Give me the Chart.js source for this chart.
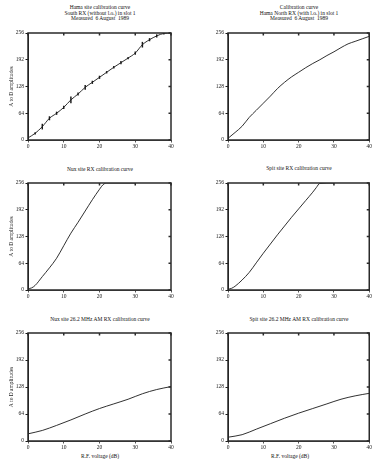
<!DOCTYPE html>
<html lang="en">
<head>
  <meta charset="UTF-8">
  <title>RX calibration curves</title>
  <script src="https://cdn.jsdelivr.net/npm/chart.js"></script>
  <style>
    body {
      margin: 0;
      background: #fff;
      width: 373px;
      height: 459px;
      position: relative;
      overflow: hidden;
      font-family: 'Liberation Serif', 'DejaVu Serif', serif;
    }
    .panel { position: absolute; }
    .title {
      position: absolute;
      text-align: center;
      font-size: 5.5px;
      line-height: 5.6px;
      color: #111;
      white-space: nowrap;
    }
  </style>
</head>
<body>
  <div class="title" style="left:40px;top:5px;width:120px">Hama site calibration curve<br>South RX (without l.o.) in slot 1<br>Measured&nbsp;&nbsp;6 August&nbsp;&nbsp;1989</div>
  <div class="title" style="left:239px;top:5px;width:120px">Calibration curve<br>Hama North RX (with l.o.) in slot 1<br>Measured&nbsp;&nbsp;6 August&nbsp;&nbsp;1989</div>
  <div class="title" style="left:40px;top:167px;width:120px">Nux site RX calibration curve</div>
  <div class="title" style="left:239px;top:166px;width:120px">Spit site RX calibration curve</div>
  <div class="title" style="left:40px;top:317px;width:120px">Nux site 26.2 MHz AM RX calibration curve</div>
  <div class="title" style="left:239px;top:317px;width:120px">Spit site 26.2 MHz AM RX calibration curve</div>
  <div class="title" style="left:40px;top:454px;width:120px">R.F. voltage (dB)</div>
  <div class="title" style="left:230px;top:454px;width:120px">R.F. voltage (dB)</div>

  <div class="panel" style="left:4px;top:28px"><canvas id="c1" width="176" height="126"></canvas></div>
  <div class="panel" style="left:190px;top:28px"><canvas id="c2" width="183" height="126"></canvas></div>
  <div class="panel" style="left:4px;top:178px"><canvas id="c3" width="176" height="126"></canvas></div>
  <div class="panel" style="left:190px;top:178px"><canvas id="c4" width="183" height="126"></canvas></div>
  <div class="panel" style="left:4px;top:328px"><canvas id="c5" width="176" height="127"></canvas></div>
  <div class="panel" style="left:190px;top:328px"><canvas id="c6" width="183" height="127"></canvas></div>

  <script>
    // axis ticks
    const xTicks = [0, 10, 20, 30, 40];
    const yTicks = [0, 64, 128, 192, 256];

    // Hama South RX (with error bars)
    const hamaSouthX   = [0, 2, 4, 6, 8, 10, 12, 14, 16, 18, 20, 22, 24, 26, 28, 30, 32, 34, 36, 38, 40];
    const hamaSouthY   = [5, 16, 32, 52, 64, 78, 96, 110, 126, 138, 150, 162, 174, 185, 196, 208, 228, 240, 249, 255, 256];
    const hamaSouthErr = [2, 2, 6, 4, 3, 3, 7, 3, 5, 3, 3, 2, 2, 3, 2, 3, 6, 3, 3, 2, 1];

    // Hama North RX
    const hamaNorthX = [0, 2, 4, 6, 8, 10, 12, 14, 16, 18, 20, 22, 24, 26, 28, 30, 32, 34, 36, 38, 40];
    const hamaNorthY = [4, 18, 33, 54, 71, 88, 105, 123, 138, 151, 162, 173, 183, 192, 202, 211, 221, 230, 236, 242, 248];

    // Nux site RX
    const nuxX = [0, 1, 2, 4, 6, 8, 10, 12, 14, 16, 18, 20, 21, 22, 30];
    const nuxY = [3, 5, 11, 32, 53, 76, 106, 136, 162, 189, 216, 241, 252, 256, 256];

    // Spit site RX
    const spitX = [0, 1, 2, 4, 6, 8, 10, 12, 14, 16, 18, 20, 22, 24, 25, 26, 30];
    const spitY = [2, 4, 9, 24, 42, 65, 88, 110, 132, 153, 174, 194, 214, 234, 245, 255, 256];

    // 26.2 MHz AM RX
    const nuxAmX  = [0, 4, 8, 12, 16, 20, 24, 28, 32, 36, 40];
    const nuxAmY  = [17, 25, 37, 50, 64, 77, 88, 99, 112, 122, 129];
    const spitAmX = [0, 4, 8, 12, 16, 20, 24, 28, 32, 36, 40];
    const spitAmY = [9, 15, 28, 41, 54, 66, 77, 88, 99, 107, 113];

    const ink = '#1a1a1a';
    const frame = '#555';
    const tickFont = { family: "'Liberation Serif', serif", size: 5.5 };

    function setTicks(list) {
      return scale => { scale.ticks = list.map(v => ({ value: v })); };
    }

    // box around the plot, with small inward ticks on the top and right edges
    const framePlugin = {
      id: 'frame',
      afterDraw(chart) {
        const ctx = chart.ctx;
        const a = chart.chartArea;
        const sx = chart.scales.x, sy = chart.scales.y;
        ctx.save();
        ctx.strokeStyle = '#2a2a2a';
        ctx.lineWidth = 1.5;
        ctx.strokeRect(a.left, a.top, a.right - a.left, a.bottom - a.top);
        ctx.beginPath();
        xTicks.forEach(v => {
          const px = sx.getPixelForValue(v);
          ctx.moveTo(px, a.top);
          ctx.lineTo(px, a.top + 2.5);
        });
        yTicks.forEach(v => {
          const py = sy.getPixelForValue(v);
          ctx.moveTo(a.right, py);
          ctx.lineTo(a.right - 2.5, py);
        });
        ctx.stroke();
        ctx.restore();
      }
    };

    function makePanel(id, xs, ys, errs, leftW, rightPad, yTitle) {
      const datasets = [{
        data: xs.map((x, i) => ({ x: x, y: ys[i] })),
        borderColor: ink,
        borderWidth: 0.9,
        pointRadius: 0,
        cubicInterpolationMode: 'monotone',
        fill: false
      }];
      if (errs) {
        datasets.push({
          type: 'bar',
          data: xs.map((x, i) => ({ x: x, y: [ys[i] - errs[i], ys[i] + errs[i]] })),
          backgroundColor: ink,
          barThickness: 0.8,
          grouped: false
        });
      }
      new Chart(document.getElementById(id), {
        type: 'line',
        data: { datasets },
        options: {
          responsive: false,
          animation: false,
          devicePixelRatio: 1,
          layout: { padding: { top: 5, right: rightPad, left: 0, bottom: 0 } },
          plugins: { legend: { display: false }, tooltip: { enabled: false } },
          scales: {
            x: {
              type: 'linear', position: 'bottom', min: 0, max: 40, offset: false,
              afterBuildTicks: setTicks(xTicks),
              ticks: { font: tickFont, color: ink, padding: 1, maxRotation: 0 },
              grid: { drawOnChartArea: false, tickLength: 2.5, color: frame, offset: false },
              border: { color: frame },
              afterFit: s => { s.height = 14; }
            },
            y: {
              type: 'linear', position: 'left', min: 0, max: 256,
              afterBuildTicks: setTicks(yTicks),
              ticks: { font: tickFont, color: ink, padding: 1.5 },
              title: { display: !!yTitle, text: yTitle || '', font: tickFont, color: ink },
              grid: { drawOnChartArea: false, tickLength: 2.5, color: ink },
              border: { color: ink },
              afterFit: s => { s.width = leftW; }
            }
          }
        },
        plugins: [framePlugin]
      });
    }

    const yLabel = 'A to D amplitudes';
    makePanel('c1', hamaSouthX, hamaSouthY, hamaSouthErr, 24, 9, yLabel);
    makePanel('c2', hamaNorthX, hamaNorthY, null, 38, 3, null);
    makePanel('c3', nuxX, nuxY, null, 24, 9, yLabel);
    makePanel('c4', spitX, spitY, null, 38, 3, null);
    makePanel('c5', nuxAmX, nuxAmY, null, 24, 9, yLabel);
    makePanel('c6', spitAmX, spitAmY, null, 38, 3, null);
  </script>
</body>
</html>
